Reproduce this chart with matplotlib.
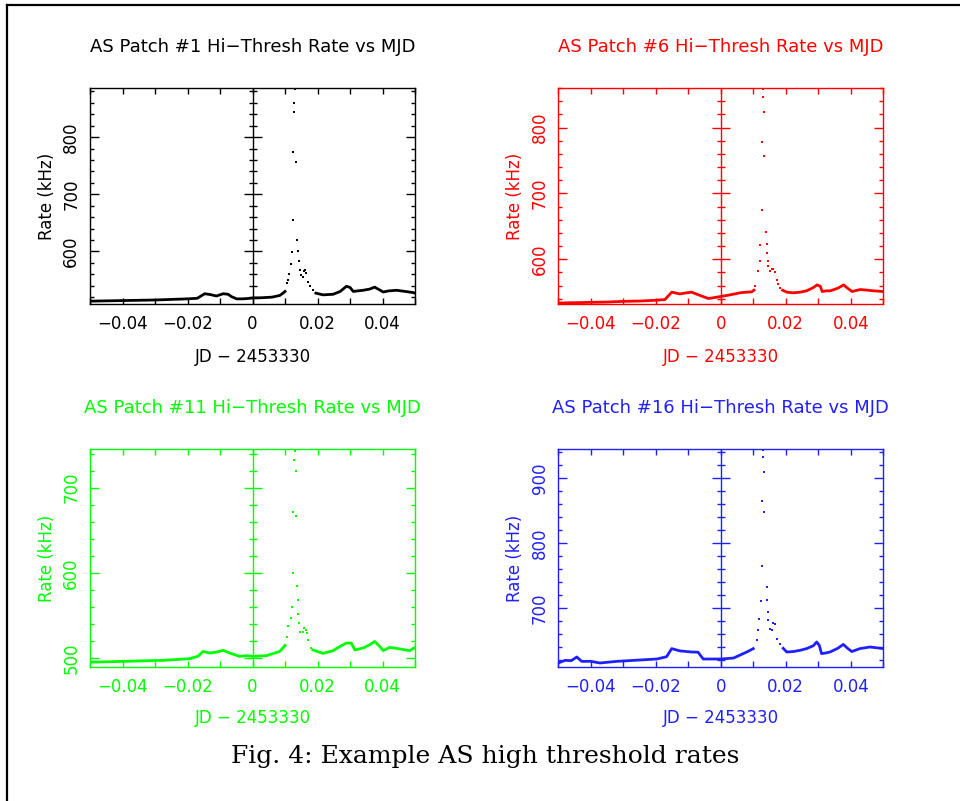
import matplotlib
matplotlib.use("Agg")
import matplotlib.pyplot as plt
from matplotlib.ticker import MultipleLocator, FuncFormatter
from matplotlib.lines import Line2D

# ---- panel 1: AS patch #1 (black) ----
p1_pre_t = [-0.050, -0.045, -0.040, -0.035, -0.030, -0.025, -0.020, -0.017, -0.0157, -0.0147,
            -0.0130, -0.0111, -0.0090, -0.0075, -0.0065, -0.0049, -0.0030, -0.0018, 0.0002,
            0.0030, 0.0060, 0.0084, 0.0094, 0.0100]
p1_pre_r = [513, 513.5, 514, 514.5, 515, 516, 517, 518, 522.5, 526,
            524.5, 522, 526, 525, 521, 517, 517, 517.5, 518.5,
            519, 520, 523, 527, 530]
p1_flare_t = [0.0105, 0.0110, 0.0113, 0.0117, 0.0120, 0.0124, 0.0126, 0.0134, 0.0129, 0.0129,
              0.0131, 0.0138, 0.0140, 0.0143, 0.0146, 0.0149, 0.0155, 0.0158, 0.0163, 0.0166,
              0.0171, 0.0176, 0.0186]
p1_flare_r = [544.7, 550.5, 561, 578.5, 598.3, 655.4, 773.8, 757, 844.8, 860.5,
              884, 620.4, 600, 582.5, 567, 559, 555, 565, 568, 562,
              546, 539, 533]
p1_post_t = [0.0195, 0.0217, 0.0248, 0.0270, 0.0289, 0.0300, 0.0310, 0.0325, 0.0340, 0.0360,
             0.0376, 0.0390, 0.0402, 0.0420, 0.0443, 0.0470, 0.0494, 0.0500]
p1_post_r = [527, 524, 525, 530, 539, 537, 530, 531, 532, 534,
             537.5, 533, 529, 531, 532, 530, 528, 527]

# ---- panel 2: AS patch #6 (red) ----
p2_pre_t = [-0.050, -0.045, -0.040, -0.035, -0.030, -0.025, -0.020, -0.0172, -0.0151, -0.0126,
            -0.0105, -0.0090, -0.0064, -0.0038, -0.0013, 0.0004, 0.0030, 0.0059, 0.0080, 0.0095,
            0.0102]
p2_pre_r = [533.5, 534, 534.5, 535, 536, 536.5, 537.7, 538.7, 550, 547.3,
            549, 550, 545, 540.3, 542.3, 543.8, 546, 549, 550, 550.4,
            553]
p2_flare_t = [0.0105, 0.0115, 0.0121, 0.0121, 0.0126, 0.0126, 0.0134, 0.0133, 0.0129, 0.0129,
              0.0139, 0.0141, 0.0143, 0.0144, 0.0146, 0.0151, 0.0157, 0.0162, 0.0167, 0.0172,
              0.0177, 0.0182]
p2_flare_r = [559, 582, 597, 622, 675.5, 778.6, 756.7, 823.6, 846.5, 858,
              640.8, 623, 609, 597, 589, 582, 584.5, 584.7, 581, 567.8,
              561.7, 556.5]
p2_post_t = [0.0190, 0.0203, 0.0223, 0.0245, 0.0264, 0.0285, 0.0296, 0.0306, 0.0312, 0.0325,
             0.0337, 0.0360, 0.0378, 0.0390, 0.0404, 0.0429, 0.0450, 0.0470, 0.0500]
p2_post_r = [553, 550, 549, 550, 552, 557, 561, 559, 551, 552,
             552, 556, 561, 556, 551, 554, 553, 552, 551]

# ---- panel 3: AS patch #11 (green) ----
p3_pre_t = [-0.050, -0.045, -0.040, -0.035, -0.0275, -0.0220, -0.0193, -0.0168, -0.0152, -0.0131,
            -0.0110, -0.0090, -0.0070, -0.0039, -0.0018, 0.0002, 0.0043, 0.0084, 0.0100]
p3_pre_r = [495, 495.5, 496, 496.5, 497.2, 498.5, 499.2, 502, 507.7, 505.8,
            507, 509, 505.8, 501.9, 502.7, 501.9, 502.7, 507.7, 514.7]
p3_flare_t = [0.0105, 0.0110, 0.0117, 0.0120, 0.0124, 0.0124, 0.0134, 0.0128, 0.0134, 0.0131,
              0.0138, 0.0139, 0.0140, 0.0143, 0.0147, 0.0154, 0.0158, 0.0164, 0.0168, 0.0171,
              0.0181]
p3_flare_r = [524.6, 537, 546.8, 560.4, 599.4, 671.5, 666.5, 732, 719.4, 743,
              585, 568, 551.8, 541, 531, 530, 535, 533, 529, 521.4,
              511.7]
p3_post_t = [0.0186, 0.0217, 0.0248, 0.0268, 0.0289, 0.0304, 0.0315, 0.0340, 0.0361, 0.0376,
             0.0392, 0.0402, 0.0422, 0.0453, 0.0484, 0.0500]
p3_post_r = [509.4, 505.4, 508.6, 513.3, 517.5, 517.5, 509.4, 511.7, 515.6, 519.4,
             513.3, 508.6, 512.5, 510.6, 508.6, 512.5]

# ---- panel 4: AS patch #16 (blue) ----
p4_pre_t = [-0.0500, -0.0479, -0.0460, -0.0443, -0.0428, -0.0400, -0.0372, -0.0320, -0.0249, -0.0197,
            -0.0167, -0.0151, -0.0126, -0.0090, -0.0070, -0.0054, -0.0030, 0.0000, 0.0039, 0.0080,
            0.0100]
p4_pre_r = [615.4, 619.5, 619, 624.6, 617.9, 618, 615.4, 617.9, 620, 621.5,
            625, 637.5, 634, 632.3, 632, 621.5, 621.5, 621.5, 623, 632.3,
            637.5]
p4_flare_t = [0.0110, 0.0115, 0.0118, 0.0123, 0.0126, 0.0126, 0.0134, 0.0133, 0.0129, 0.0131,
              0.0141, 0.0141, 0.0144, 0.0146, 0.0151, 0.0157, 0.0162, 0.0167, 0.0172, 0.0182]
p4_flare_r = [650.3, 665.7, 683.7, 710.8, 764, 864, 847.7, 909, 931.4, 943,
              733, 713, 693.8, 681, 668.3, 666, 677, 676, 653, 645]
p4_post_t = [0.0192, 0.0203, 0.0223, 0.0245, 0.0264, 0.0285, 0.0295, 0.0303, 0.0310, 0.0325,
             0.0336, 0.0360, 0.0377, 0.0390, 0.0403, 0.0428, 0.0459, 0.0500]
p4_post_r = [638, 632.3, 633, 635, 637.5, 642, 647.7, 642.6, 629.8, 631,
             632.3, 638, 644, 638, 633, 637.5, 640, 637.5]

titles = ["AS Patch #1 Hi\u2212Thresh Rate vs MJD", "AS Patch #6 Hi\u2212Thresh Rate vs MJD",
          "AS Patch #11 Hi\u2212Thresh Rate vs MJD", "AS Patch #16 Hi\u2212Thresh Rate vs MJD"]
colors = ["black", "#ff0000", "#00ff00", "#2020ff"]
ylims = [(508, 886), (532, 860), (490, 745), (610, 944)]
ymajors = [[600, 700, 800], [600, 700, 800], [500, 600, 700], [700, 800, 900]]


def jd_fmt(v, pos):
    if abs(v) < 1e-9:
        return "0"
    return ("%.2f" % v).replace("-", "\u2212")


def draw_panel(ax, color, title, pre, flare, post, ylim, ymaj, xlab_y):
    ax.plot(pre[0], pre[1], color=color, lw=2.0)
    ax.plot(post[0], post[1], color=color, lw=2.0)
    ax.plot(flare[0], flare[1], ls="none", marker="s", ms=1.8, mew=0, color=color)

    ax.set_xlim(-0.05, 0.05)
    ax.set_ylim(*ylim)
    ax.xaxis.set_major_locator(MultipleLocator(0.02))
    ax.xaxis.set_minor_locator(MultipleLocator(0.01))
    ax.xaxis.set_major_formatter(FuncFormatter(jd_fmt))
    ax.set_yticks(ymaj)
    ax.set_yticklabels([str(v) for v in ymaj], rotation=90, va="center")
    ax.yaxis.set_minor_locator(MultipleLocator(20))

    ax.tick_params(which="both", direction="in", top=True, right=True, colors=color)
    ax.tick_params(axis="y", which="major", length=6.5, width=1, pad=7, labelsize=12)
    ax.tick_params(axis="y", which="minor", length=3.2, width=1)
    ax.tick_params(axis="x", which="major", length=4, width=1, pad=8, labelsize=12)
    ax.tick_params(axis="x", which="minor", length=4, width=1)
    for sp in ax.spines.values():
        sp.set_color(color)
        sp.set_linewidth(1.0)

    # internal axis at t = 0 with crossing ticks
    ax.axvline(0, color=color, lw=1.0)
    yminor = [v for v in range(int(ylim[0]) // 20 * 20, int(ylim[1]) + 1, 20)
              if ylim[0] < v < ylim[1] and v not in ymaj]
    ax.plot([0] * len(ymaj), ymaj, ls="none", marker="_", ms=12.5, mew=1.0, color=color)
    ax.plot([0] * len(yminor), yminor, ls="none", marker="_", ms=5.5, mew=1.0, color=color)

    ax.set_xlabel("JD \u2212 2453330", color=color, fontsize=12, va="center")
    ax.set_ylabel("Rate (kHz)", color=color, fontsize=12, va="center", ha="center")
    ax.xaxis.set_label_coords(0.5, xlab_y)
    ax.yaxis.set_label_coords(-0.132, 0.5)
    pos = ax.get_position()
    ax.figure.text((pos.x0 + pos.x1) / 2, pos.y1 + 41 / 801, title, color=color,
                   fontsize=13, ha="center", va="center")


fig = plt.figure(figsize=(9.6, 8.01), dpi=100)
W, H = 960.0, 801.0
boxes = [(90, 88, 415, 304), (558.3, 88, 883.3, 304),
         (90, 449.3, 415, 666.5), (558.3, 449.3, 883.3, 666.5)]
panels = [
    ((p1_pre_t, p1_pre_r), (p1_flare_t, p1_flare_r), (p1_post_t, p1_post_r)),
    ((p2_pre_t, p2_pre_r), (p2_flare_t, p2_flare_r), (p2_post_t, p2_post_r)),
    ((p3_pre_t, p3_pre_r), (p3_flare_t, p3_flare_r), (p3_post_t, p3_post_r)),
    ((p4_pre_t, p4_pre_r), (p4_flare_t, p4_flare_r), (p4_post_t, p4_post_r)),
]
xlab_y = [-0.245, -0.245, -0.237, -0.237]
for i, (l, t, r, b) in enumerate(boxes):
    ax = fig.add_axes([l / W, 1 - b / H, (r - l) / W, (b - t) / H])
    pre, flare, post = panels[i]
    draw_panel(ax, colors[i], titles[i], pre, flare, post, ylims[i], ymajors[i], xlab_y[i])

fig.text(485 / W, 1 - 757 / H, "Fig. 4: Example AS high threshold rates",
         family="DejaVu Serif", fontsize=18, ha="center", va="center")

# page frame (top and left edges)
fig.add_artist(Line2D([6.7 / W, 6.7 / W], [0, 1 - 5 / H], transform=fig.transFigure,
                      color="black", lw=1.6))
fig.add_artist(Line2D([6.7 / W, 1], [1 - 5 / H, 1 - 5 / H], transform=fig.transFigure,
                      color="black", lw=1.6))

fig.savefig("out.png", dpi=100)
